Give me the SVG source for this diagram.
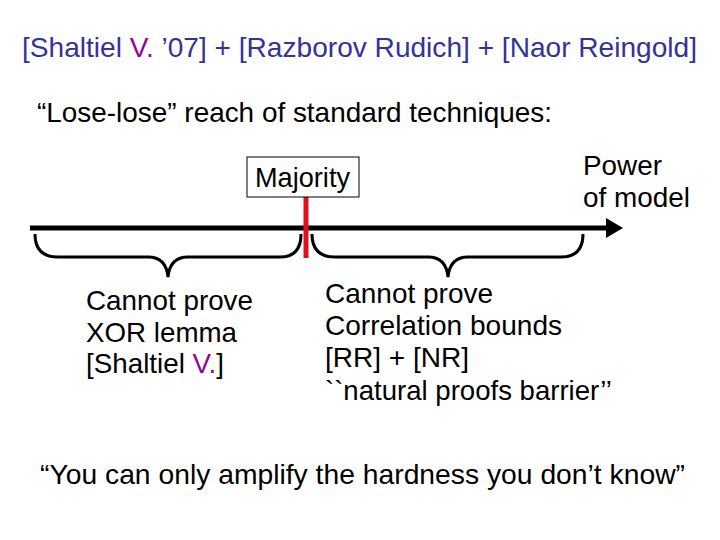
<svg xmlns="http://www.w3.org/2000/svg" width="720" height="540" viewBox="0 0 720 540">
<style>
text{font-family:"Liberation Sans",Arial,sans-serif;font-size:28px;fill:#000}
.title{fill:#333399}
.v{fill:#990099}
.brace{fill:none;stroke:#000;stroke-width:3}
</style>
<defs>
<marker id="ah" markerWidth="4" markerHeight="4" refX="0" refY="2" orient="auto" markerUnits="strokeWidth">
<path d="M0,0 L3.4,2 L0,4 Z" fill="#000"/>
</marker>
</defs>
<rect width="720" height="540" fill="#fff"/>
<text class="title" x="22" y="57" textLength="675" lengthAdjust="spacingAndGlyphs">[Shaltiel <tspan class="v">V.</tspan> ’07] + [Razborov Rudich] + [Naor Reingold]</text>
<text x="37" y="122" textLength="515" lengthAdjust="spacingAndGlyphs">“Lose-lose” reach of standard techniques:</text>
<g id="connectors">
<line x1="30" y1="228" x2="606" y2="228" stroke="#000" stroke-width="5" marker-end="url(#ah)"/>
<line x1="306" y1="197" x2="306" y2="258" stroke="#e0101a" stroke-width="5"/>
<path class="brace" d="M35,234 Q35,257 58,257 L148,257 Q166,257 168,277 Q170,257 188,257 L280,257 Q301,257 301,234"/>
<path class="brace" d="M312,234 Q312,257 335,257 L428,257 Q446,257 448,277 Q450,257 468,257 L561,257 Q583,257 583,234"/>
</g>
<g id="majority">
<rect x="247" y="157" width="112" height="40" fill="#fff" stroke="#000" stroke-width="1"/>
<text x="255" y="187" textLength="95" lengthAdjust="spacingAndGlyphs">Majority</text>
</g>
<g id="power">
<text x="583" y="175" textLength="79" lengthAdjust="spacingAndGlyphs">Power</text>
<text x="583" y="207" textLength="107" lengthAdjust="spacingAndGlyphs">of model</text>
</g>
<g id="left">
<text x="86" y="310" textLength="167" lengthAdjust="spacingAndGlyphs">Cannot prove</text>
<text x="86" y="342" textLength="151" lengthAdjust="spacingAndGlyphs">XOR lemma</text>
<text x="86" y="373" textLength="138" lengthAdjust="spacingAndGlyphs">[Shaltiel <tspan class="v">V.</tspan>]</text>
</g>
<g id="right">
<text x="325" y="303" textLength="168" lengthAdjust="spacingAndGlyphs">Cannot prove</text>
<text x="325" y="335" textLength="237" lengthAdjust="spacingAndGlyphs">Correlation bounds</text>
<text x="325" y="367" textLength="144" lengthAdjust="spacingAndGlyphs">[RR] + [NR]</text>
<text x="325" y="400" textLength="287" lengthAdjust="spacingAndGlyphs">``natural proofs barrier’’</text>
</g>
<text x="40" y="484" textLength="645" lengthAdjust="spacingAndGlyphs">“You can only amplify the hardness you don’t know”</text>
</svg>
